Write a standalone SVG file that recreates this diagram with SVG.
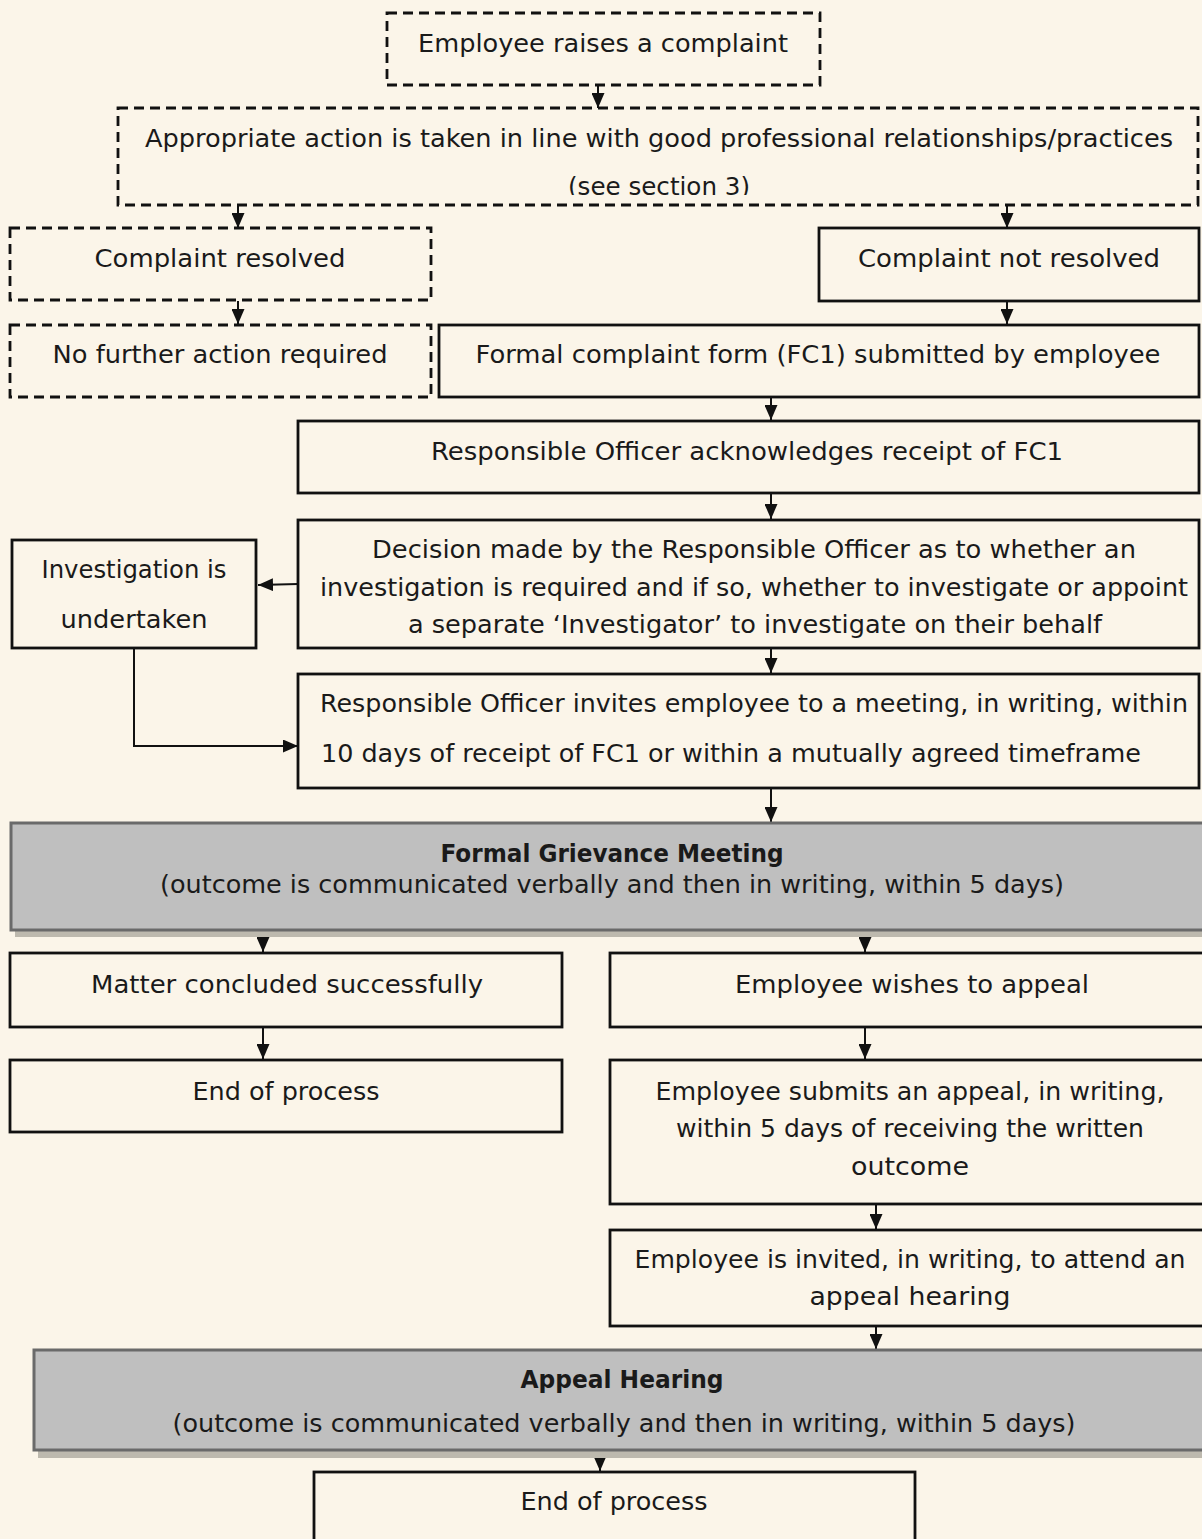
<svg xmlns="http://www.w3.org/2000/svg" width="1202" height="1539" viewBox="0 0 1202 1539">
<defs>
<style>
.bg{fill:#FBF5E9}
.box{fill:#FBF5E9;stroke:#111;stroke-width:2.8}
.dash{fill:#FBF5E9;stroke:#111;stroke-width:2.8;stroke-dasharray:10 6}
.grey{fill:#BFBFBF;stroke:#6a6a6a;stroke-width:3}
.shadow{fill:#BDB9AE}
.t{font-family:"DejaVu Sans","Liberation Sans",sans-serif;font-size:24px;fill:#1a1a1a;text-anchor:middle}
.tl{text-anchor:start}
.b{font-weight:bold}
.con{fill:none;stroke:#111;stroke-width:2}
</style>
<marker id="ah" viewBox="0 0 10 10" refX="10" refY="5" markerWidth="15" markerHeight="13" orient="auto" markerUnits="userSpaceOnUse" preserveAspectRatio="none">
<path d="M0,0 L10,5 L0,10 z" fill="#111"/>
</marker>
<clipPath id="clip2"><rect x="118" y="108" width="1082" height="87"/></clipPath>
</defs>
<rect class="bg" x="0" y="0" width="1202" height="1539"/>

<g id="connectors">
<line class="con" x1="598" y1="86" x2="598" y2="108" marker-end="url(#ah)"/>
<line class="con" x1="238" y1="206" x2="238" y2="228" marker-end="url(#ah)"/>
<line class="con" x1="1007" y1="206" x2="1007" y2="228" marker-end="url(#ah)"/>
<line class="con" x1="238" y1="301" x2="238" y2="324" marker-end="url(#ah)"/>
<line class="con" x1="1007" y1="302" x2="1007" y2="324" marker-end="url(#ah)"/>
<line class="con" x1="771" y1="398" x2="771" y2="420" marker-end="url(#ah)"/>
<line class="con" x1="771" y1="494" x2="771" y2="519" marker-end="url(#ah)"/>
<line class="con" x1="298" y1="584" x2="258" y2="585" marker-end="url(#ah)"/>
<line class="con" x1="771" y1="649" x2="771" y2="673" marker-end="url(#ah)"/>
<polyline class="con" points="134,649 134,746 298,746" marker-end="url(#ah)"/>
<line class="con" x1="771" y1="789" x2="771" y2="822" marker-end="url(#ah)"/>
<line class="con" x1="263" y1="932" x2="263" y2="952" marker-end="url(#ah)"/>
<line class="con" x1="865" y1="932" x2="865" y2="952" marker-end="url(#ah)"/>
<line class="con" x1="263" y1="1028" x2="263" y2="1059" marker-end="url(#ah)"/>
<line class="con" x1="865" y1="1028" x2="865" y2="1059" marker-end="url(#ah)"/>
<line class="con" x1="876" y1="1205" x2="876" y2="1229" marker-end="url(#ah)"/>
<line class="con" x1="876" y1="1327" x2="876" y2="1349" marker-end="url(#ah)"/>
<line class="con" x1="600" y1="1452" x2="600" y2="1471" marker-end="url(#ah)"/>
</g>

<g id="n1">
<rect class="dash" x="387" y="13" width="433" height="72"/>
<text class="t" x="603" y="52" textLength="370" lengthAdjust="spacingAndGlyphs">Employee raises a complaint</text>
</g>

<g id="n2">
<rect class="dash" x="118" y="108" width="1080" height="97"/>
<text class="t" x="659" y="147" textLength="1028" lengthAdjust="spacingAndGlyphs">Appropriate action is taken in line with good professional relationships/practices</text>
<text class="t" x="659" y="195" textLength="182" lengthAdjust="spacingAndGlyphs" clip-path="url(#clip2)">(see section 3)</text>
</g>

<g id="n3">
<rect class="dash" x="10" y="228" width="421" height="72"/>
<text class="t" x="220" y="267" textLength="251" lengthAdjust="spacingAndGlyphs">Complaint resolved</text>
</g>

<g id="n4">
<rect class="dash" x="10" y="325" width="421" height="72"/>
<text class="t" x="220" y="363" textLength="335" lengthAdjust="spacingAndGlyphs">No further action required</text>
</g>

<g id="n5">
<rect class="box" x="819" y="228" width="380" height="73"/>
<text class="t" x="1009" y="267" textLength="302" lengthAdjust="spacingAndGlyphs">Complaint not resolved</text>
</g>

<g id="n6">
<rect class="box" x="439" y="325" width="760" height="72"/>
<text class="t" x="818" y="363" textLength="685" lengthAdjust="spacingAndGlyphs">Formal complaint form (FC1) submitted by employee</text>
</g>

<g id="n7">
<rect class="box" x="298" y="421" width="901" height="72"/>
<text class="t" x="747" y="460" textLength="632" lengthAdjust="spacingAndGlyphs">Responsible Officer acknowledges receipt of FC1</text>
</g>

<g id="n8">
<rect class="box" x="298" y="520" width="901" height="128"/>
<text class="t" x="754" y="558" textLength="764" lengthAdjust="spacingAndGlyphs">Decision made by the Responsible Officer as to whether an</text>
<text class="t" x="754" y="596" textLength="868" lengthAdjust="spacingAndGlyphs">investigation is required and if so, whether to investigate or appoint</text>
<text class="t" x="755" y="633" textLength="694" lengthAdjust="spacingAndGlyphs">a separate ‘Investigator’ to investigate on their behalf</text>
</g>

<g id="n9">
<rect class="box" x="12" y="540" width="244" height="108"/>
<text class="t" x="134" y="578" textLength="185" lengthAdjust="spacingAndGlyphs">Investigation is</text>
<text class="t" x="134" y="628" textLength="147" lengthAdjust="spacingAndGlyphs">undertaken</text>
</g>

<g id="n10">
<rect class="box" x="298" y="674" width="901" height="114"/>
<text class="t tl" x="320" y="712" textLength="868" lengthAdjust="spacingAndGlyphs">Responsible Officer invites employee to a meeting, in writing, within</text>
<text class="t tl" x="321" y="762" textLength="820" lengthAdjust="spacingAndGlyphs">10 days of receipt of FC1 or within a mutually agreed timeframe</text>
</g>

<g id="n11">
<rect class="shadow" x="15" y="827" width="1202" height="110"/>
<rect class="grey" x="11" y="823" width="1202" height="107"/>
<text class="t b" x="612" y="862" textLength="343" lengthAdjust="spacingAndGlyphs">Formal Grievance Meeting</text>
<text class="t" x="612" y="893" textLength="904" lengthAdjust="spacingAndGlyphs">(outcome is communicated verbally and then in writing, within 5 days)</text>
</g>

<g id="n12">
<rect class="box" x="10" y="953" width="552" height="74"/>
<text class="t" x="287" y="993" textLength="392" lengthAdjust="spacingAndGlyphs">Matter concluded successfully</text>
</g>

<g id="n13">
<rect class="box" x="10" y="1060" width="552" height="72"/>
<text class="t" x="286" y="1100" textLength="187" lengthAdjust="spacingAndGlyphs">End of process</text>
</g>

<g id="n14">
<rect class="box" x="610" y="953" width="600" height="74"/>
<text class="t" x="912" y="993" textLength="354" lengthAdjust="spacingAndGlyphs">Employee wishes to appeal</text>
</g>

<g id="n15">
<rect class="box" x="610" y="1060" width="600" height="144"/>
<text class="t" x="910" y="1100" textLength="509" lengthAdjust="spacingAndGlyphs">Employee submits an appeal, in writing,</text>
<text class="t" x="910" y="1137" textLength="468" lengthAdjust="spacingAndGlyphs">within 5 days of receiving the written</text>
<text class="t" x="910" y="1175" textLength="118" lengthAdjust="spacingAndGlyphs">outcome</text>
</g>

<g id="n16">
<rect class="box" x="610" y="1230" width="600" height="96"/>
<text class="t" x="910" y="1268" textLength="551" lengthAdjust="spacingAndGlyphs">Employee is invited, in writing, to attend an</text>
<text class="t" x="910" y="1305" textLength="201" lengthAdjust="spacingAndGlyphs">appeal hearing</text>
</g>

<g id="n17">
<rect class="shadow" x="38" y="1354" width="1180" height="104"/>
<rect class="grey" x="34" y="1350" width="1180" height="100"/>
<text class="t b" x="622" y="1388" textLength="203" lengthAdjust="spacingAndGlyphs">Appeal Hearing</text>
<text class="t" x="624" y="1432" textLength="903" lengthAdjust="spacingAndGlyphs">(outcome is communicated verbally and then in writing, within 5 days)</text>
</g>

<g id="n18">
<rect class="box" x="314" y="1472" width="601" height="80"/>
<text class="t" x="614" y="1510" textLength="187" lengthAdjust="spacingAndGlyphs">End of process</text>
</g>
</svg>
